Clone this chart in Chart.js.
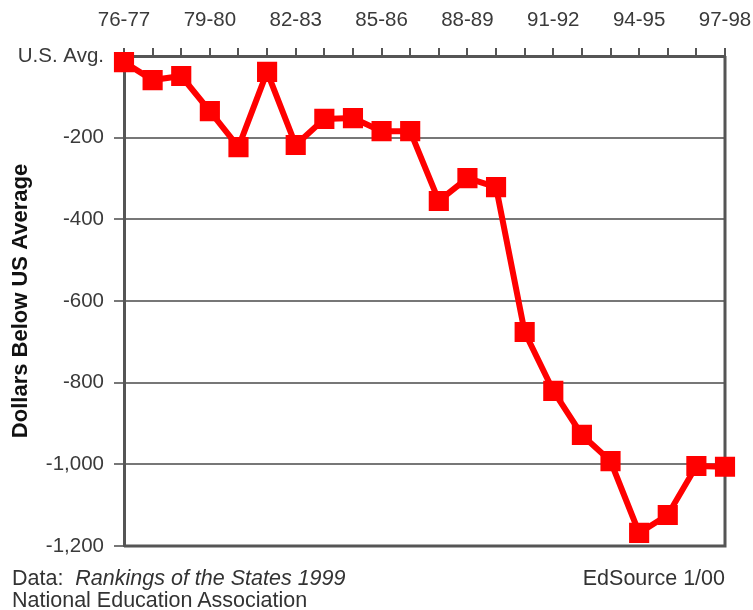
<!DOCTYPE html>
<html>
<head>
<meta charset="utf-8">
<script src="https://cdn.jsdelivr.net/npm/chart.js@4.4.1/dist/chart.umd.min.js"></script>
<style>
  body { margin: 0; background: #fff; }
  .wrap { position: relative; width: 753px; height: 610px; }
  .note { position: absolute; font-family: "Liberation Sans", Arial, sans-serif; font-size: 21.5px; color: #333; line-height: 22px; }
</style>
</head>
<body>
<div class="wrap">
  <canvas id="chart" width="753" height="610"></canvas>
  <div class="note" style="left:12px; top:567px;">Data:&nbsp; <i>Rankings of the States 1999</i><br>National Education Association</div>
  <div class="note" style="right:28px; top:567px;">EdSource 1/00</div>
</div>
<script>
// school years on the top axis
const years = ["76-77", "77-78", "78-79", "79-80", "80-81", "81-82", "82-83", "83-84",
  "84-85", "85-86", "86-87", "87-88", "88-89", "89-90", "90-91", "91-92", "92-93",
  "93-94", "94-95", "95-96", "96-97", "97-98"];

// dollars below the US average
const belowAvg = [-15, -59, -49, -135, -223, -39, -218, -154, -152, -184, -184,
  -355, -299, -321, -676, -820, -928, -992, -1168, -1124, -1004, -1006];

const yTicks = [0, -200, -400, -600, -800, -1000, -1200];

const frame = {
  id: "frame",
  beforeDatasetsDraw(chart) {
    const a = chart.chartArea;
    const ctx = chart.ctx;
    ctx.save();
    ctx.strokeStyle = "#555";
    ctx.lineWidth = 3;
    ctx.beginPath();
    ctx.moveTo(a.right, a.top);
    ctx.lineTo(a.right, a.bottom);
    ctx.lineTo(a.left, a.bottom);
    ctx.stroke();
    ctx.restore();
  }
};

new Chart(document.getElementById("chart"), {
  type: "line",
  data: {
    labels: years,
    datasets: [{
      data: belowAvg,
      borderColor: "#ff0000",
      backgroundColor: "#ff0000",
      borderWidth: 6,
      pointStyle: "rect",
      pointRadius: 10,
      pointHoverRadius: 10,
      tension: 0,
      clip: false
    }]
  },
  options: {
    responsive: false,
    animation: false,
    layout: { padding: { left: 0, right: 28, top: 0, bottom: 64 } },
    plugins: { legend: { display: false }, tooltip: { enabled: false } },
    scales: {
      x: {
        position: "top",
        offset: false,
        afterFit: (s) => { s.height = 56; s.paddingLeft = 0; s.paddingRight = 0; },
        grid: { drawOnChartArea: false, drawTicks: true, tickLength: 8, color: "#555", lineWidth: 2 },
        border: { color: "#555", width: 3 },
        ticks: {
          autoSkip: false,
          maxRotation: 0,
          padding: 15,
          color: "#3a3a3a",
          font: { family: "'Liberation Sans', Arial, sans-serif", size: 20.5 },
          callback: (v, i) => (i % 3 === 0 ? years[i] : "")
        }
      },
      y: {
        min: -1200,
        max: 0,
        afterFit: (s) => { s.width = 124; s.paddingTop = 0; s.paddingBottom = 0; },
        afterBuildTicks: (s) => { s.ticks = yTicks.map((v) => ({ value: v })); },
        grid: { color: "#777", lineWidth: 2, tickLength: 10 },
        border: { color: "#555", width: 3 },
        ticks: {
          padding: 10,
          color: "#3a3a3a",
          font: { family: "'Liberation Sans', Arial, sans-serif", size: 20.5 },
          callback: (v) => (v === 0 ? "U.S. Avg." : v.toLocaleString("en-US"))
        },
        title: {
          display: true,
          text: "Dollars Below US Average",
          color: "#111",
          padding: { top: 8, bottom: 0 },
          font: { family: "'Liberation Sans', Arial, sans-serif", size: 22, weight: "bold" }
        }
      }
    }
  },
  plugins: [frame]
});
</script>
</body>
</html>
